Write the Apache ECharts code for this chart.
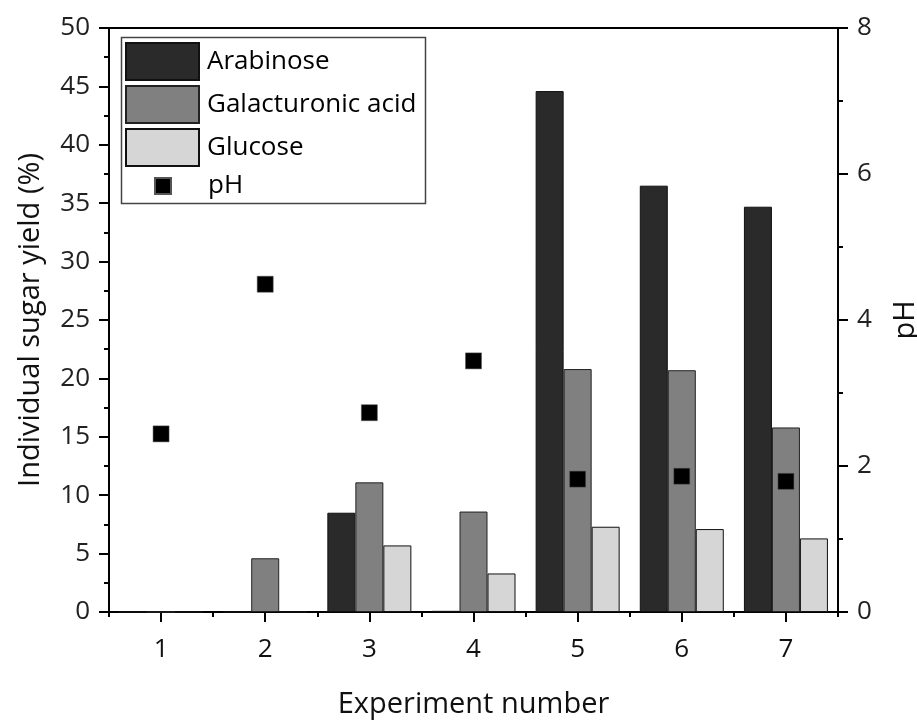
<!DOCTYPE html>
<html>
<head>
<meta charset="utf-8">
<script src="https://cdn.jsdelivr.net/npm/echarts@6/dist/echarts.min.js"></script>
<style>
  html, body { margin: 0; padding: 0; background: #fff; }
  #chart { width: 917px; height: 720px; }
</style>
</head>
<body>
<div id="chart"></div>
<script>
// Experiment numbers (x categories)
const experiments = ['1', '2', '3', '4', '5', '6', '7'];

// Individual sugar yields (%) per experiment
const arabinose        = [0, 0, 8.5, 0.1, 44.6, 36.5, 34.7];
const galacturonicAcid = [0, 4.6, 11.1, 8.6, 20.8, 20.7, 15.8];
const glucose          = [0, 0, 5.7, 3.3, 7.3, 7.1, 6.3];

// pH per experiment (right axis)
const pH = [2.44, 4.49, 2.73, 3.44, 1.82, 1.86, 1.79];

// Axis ranges and tick steps
const yieldAxis = { min: 0, max: 50, step: 5 };
const pHAxis    = { min: 0, max: 8,  step: 2 };

const FONT = '"Open Sans"';
const INK = '#000';
const TICK_FONT = 26;
const TITLE_FONT = 29;
const LEGEND_FONT = 26;

const chart = echarts.init(document.getElementById('chart'), null, { renderer: 'canvas' });

chart.setOption({
  animation: false,
  backgroundColor: '#fff',
  textStyle: { fontFamily: FONT, color: INK },
  grid: {
    left: 109, right: 79, top: 28, bottom: 108,
    outerBoundsMode: 'none',
    show: true, borderColor: INK, borderWidth: 2, backgroundColor: 'transparent'
  },
  legend: [
    {
      data: [
        { name: 'Arabinose', icon: 'rect' },
        { name: 'Galacturonic acid', icon: 'rect' },
        { name: 'Glucose', icon: 'rect' }
      ],
      orient: 'vertical',
      left: 125, top: 42,
      padding: 0,
      itemWidth: 73, itemHeight: 37, itemGap: 4,
      textStyle: { fontFamily: FONT, fontSize: LEGEND_FONT, color: INK, padding: [0, 0, 0, 3] }
    },
    {
      data: [{ name: 'pH', icon: 'rect' }],
      orient: 'vertical',
      left: 154, top: 173,
      padding: 0,
      itemWidth: 16, itemHeight: 16,
      textStyle: { fontFamily: FONT, fontSize: LEGEND_FONT, color: INK, lineHeight: 16, padding: [0, 0, 0, 32] }
    }
  ],
  graphic: [
    {
      type: 'rect',
      shape: { x: 121.5, y: 37.5, width: 304, height: 166 },
      style: { fill: 'none', stroke: '#444', lineWidth: 1.5 },
      z: 1
    }
  ],
  xAxis: [
    {
      type: 'category',
      data: experiments,
      boundaryGap: true,
      position: 'bottom',
      axisLine: { show: true, lineStyle: { color: INK, width: 2 } },
      axisTick: { show: true, length: 5, lineStyle: { color: INK, width: 2 } },
      axisLabel: { fontFamily: FONT, fontSize: TICK_FONT, color: '#111', margin: 25 },
      splitLine: { show: false },
      name: 'Experiment number',
      nameLocation: 'middle',
      nameGap: 78,
      nameTextStyle: { fontFamily: FONT, fontSize: TITLE_FONT, color: '#111' }
    },
    {
      type: 'category',
      data: experiments,
      boundaryGap: true,
      position: 'bottom',
      axisLine: { show: false },
      axisTick: { show: true, alignWithLabel: true, length: 10, lineStyle: { color: INK, width: 2 } },
      axisLabel: { show: false },
      splitLine: { show: false }
    }
  ],
  yAxis: [
    {
      type: 'value',
      position: 'left',
      min: yieldAxis.min, max: yieldAxis.max, interval: yieldAxis.step,
      axisLine: { show: true, lineStyle: { color: INK, width: 2 } },
      axisTick: { show: true, length: 10, lineStyle: { color: INK, width: 2 } },
      minorTick: { show: true, splitNumber: 2, length: 5, lineStyle: { color: INK, width: 2 } },
      splitLine: { show: false },
      axisLabel: { fontFamily: FONT, fontSize: TICK_FONT, color: '#222', margin: 19 },
      name: 'Individual sugar yield (%)',
      nameLocation: 'middle',
      nameRotate: 90,
      nameGap: 64,
      nameTextStyle: { fontFamily: FONT, fontSize: TITLE_FONT, color: '#111' }
    },
    {
      type: 'value',
      position: 'right',
      min: pHAxis.min, max: pHAxis.max, interval: pHAxis.step,
      axisLine: { show: true, lineStyle: { color: INK, width: 2 } },
      axisTick: { show: true, length: 10, lineStyle: { color: INK, width: 2 } },
      minorTick: { show: true, splitNumber: 2, length: 5, lineStyle: { color: INK, width: 2 } },
      splitLine: { show: false },
      axisLabel: { fontFamily: FONT, fontSize: TICK_FONT, color: '#222', margin: 19 },
      name: 'pH',
      nameLocation: 'middle',
      nameRotate: 90,
      nameGap: 53,
      nameTextStyle: { fontFamily: FONT, fontSize: TITLE_FONT, color: '#111' }
    }
  ],
  series: [
    {
      name: 'Arabinose',
      type: 'bar',
      xAxisIndex: 0, yAxisIndex: 0,
      data: arabinose,
      barWidth: 28,
      barGap: '0%',
      itemStyle: { color: '#2a2a2a', borderColor: '#111', borderWidth: 1 }
    },
    {
      name: 'Galacturonic acid',
      type: 'bar',
      xAxisIndex: 0, yAxisIndex: 0,
      data: galacturonicAcid,
      barWidth: 28,
      barGap: '0%',
      itemStyle: { color: '#808080', borderColor: '#222', borderWidth: 1 }
    },
    {
      name: 'Glucose',
      type: 'bar',
      xAxisIndex: 0, yAxisIndex: 0,
      data: glucose,
      barWidth: 28,
      barGap: '0%',
      itemStyle: { color: '#d6d6d6', borderColor: '#111', borderWidth: 1 }
    },
    {
      name: 'pH',
      type: 'scatter',
      xAxisIndex: 0, yAxisIndex: 1,
      data: pH,
      symbol: 'rect',
      symbolSize: 16,
      itemStyle: { color: '#000', opacity: 1, borderColor: '#555', borderWidth: 0.5 },
      z: 10
    }
  ]
});
</script>
</body>
</html>
